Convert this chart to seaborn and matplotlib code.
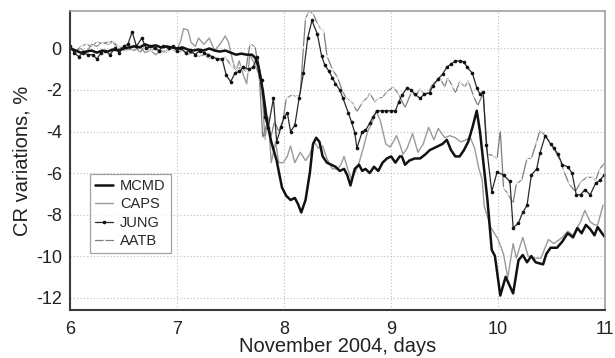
import matplotlib
matplotlib.use("Agg")
import matplotlib.pyplot as plt
from matplotlib.ticker import MultipleLocator
import numpy as np
import pandas as pd
import seaborn as sns

# --- cosmic-ray variations, November 2004 (days) ---
mcmd_t = [6.0, 6.05, 6.1, 6.15, 6.2, 6.25, 6.3, 6.35, 6.4, 6.45, 6.5, 6.55, 6.6, 6.65, 6.7, 6.75,
          6.8, 6.85, 6.9, 6.95, 7.0, 7.05, 7.1, 7.15, 7.2, 7.25, 7.3, 7.35, 7.4, 7.45, 7.5, 7.55,
          7.6, 7.65, 7.7, 7.73, 7.76, 7.8, 7.84, 7.88, 7.93, 7.98, 8.02, 8.06, 8.1, 8.13, 8.16,
          8.2, 8.24, 8.27, 8.3, 8.33, 8.36, 8.4, 8.44, 8.48, 8.52, 8.56, 8.59, 8.62, 8.66, 8.7,
          8.73, 8.76, 8.8, 8.84, 8.88, 8.92, 8.96, 9.0, 9.04, 9.08, 9.1, 9.13, 9.17, 9.22, 9.27,
          9.32, 9.36, 9.4, 9.44, 9.48, 9.52, 9.56, 9.6, 9.64, 9.68, 9.72, 9.76, 9.8, 9.83, 9.86,
          9.9, 9.94, 9.97, 10.02, 10.07, 10.14, 10.19, 10.23, 10.27, 10.31, 10.35, 10.42, 10.45,
          10.49, 10.55, 10.6, 10.65, 10.7, 10.74, 10.78, 10.82, 10.86, 10.9, 10.93, 10.97, 11.0]
mcmd_v = [0.0, -0.1, -0.2, -0.15, -0.1, -0.2, -0.1, -0.15, -0.05, -0.1, 0.0, 0.05, 0.1, 0.05, 0.2, 0.1,
          0.15, 0.05, 0.1, 0.05, 0.0, 0.05, -0.05, -0.1, -0.05, -0.1, 0.0, -0.1, -0.15, -0.1, -0.2, -0.3,
          -0.25, -0.3, -0.3, -0.45, -0.9, -2.0, -3.5, -4.5, -5.4, -6.7, -7.1, -7.3, -7.2, -7.5, -7.9,
          -7.3, -6.0, -4.6, -4.3, -4.5, -5.2, -5.5, -5.6, -5.7, -5.9, -5.8, -6.1, -6.6, -5.8, -5.6,
          -5.9, -5.8, -6.0, -5.7, -5.9, -5.5, -5.3, -5.2, -5.5, -5.2, -5.2, -5.6, -5.4, -5.3, -5.3,
          -5.1, -4.9, -4.8, -4.7, -4.6, -4.4, -4.9, -5.2, -5.2, -4.9, -4.5, -3.8, -3.0, -4.0, -5.4,
          -7.3, -9.7, -10.0, -11.9, -11.0, -11.8, -10.2, -9.95, -10.3, -10.0, -10.3, -10.4, -9.9,
          -9.6, -9.6, -9.3, -8.9, -9.1, -8.65, -8.9, -8.5, -8.7, -9.0, -8.6, -8.9, -9.1]

caps_t = [6.0, 6.05, 6.1, 6.15, 6.2, 6.25, 6.3, 6.35, 6.4, 6.45, 6.5, 6.55, 6.6, 6.65, 6.7, 6.75,
          6.8, 6.85, 6.9, 6.95, 7.0, 7.03, 7.06, 7.1, 7.13, 7.17, 7.2, 7.25, 7.3, 7.35, 7.4, 7.45,
          7.48, 7.52, 7.55, 7.58, 7.62, 7.65, 7.68, 7.72, 7.76, 7.8, 7.82, 7.85, 7.88, 7.92, 7.95,
          7.99, 8.03, 8.06, 8.1, 8.15, 8.2, 8.24, 8.28, 8.32, 8.36, 8.4, 8.45, 8.5, 8.53, 8.56,
          8.6, 8.63, 8.67, 8.7, 8.74, 8.78, 8.82, 8.86, 8.9, 8.95, 8.99, 9.02, 9.05, 9.08, 9.11,
          9.15, 9.2, 9.25, 9.3, 9.35, 9.4, 9.44, 9.5, 9.55, 9.6, 9.65, 9.7, 9.74, 9.78, 9.82,
          9.85, 9.87, 9.93, 10.0, 10.05, 10.09, 10.14, 10.17, 10.23, 10.28, 10.33, 10.4, 10.47,
          10.52, 10.6, 10.65, 10.7, 10.77, 10.81, 10.86, 10.9, 10.93, 10.98]
caps_v = [0.1, -0.1, 0.0, -0.2, 0.2, 0.1, 0.3, 0.2, 0.3, 0.0, -0.1, 0.0, -0.1, 0.1, -0.2, -0.1,
          -0.3, -0.1, -0.2, 0.1, 0.0, 0.3, 0.95, 0.9, 0.3, 0.1, 0.5, 0.2, 0.5, -0.1, 0.2, 0.6,
          0.3, -0.6, -1.1, -0.6, -1.3, -1.7, -0.3, -0.7, -1.2, -2.5, -4.4, -3.3, -5.5, -4.5, -5.5,
          -5.5, -5.2, -4.7, -5.5, -5.0, -5.4, -5.1, -4.5, -4.8, -4.7, -5.3, -5.8, -5.8, -5.6, -5.2,
          -5.9, -6.3, -5.9, -5.5, -4.8, -4.0, -3.6, -3.0, -3.5, -4.6, -4.75, -4.5, -4.2, -4.6, -5.1,
          -4.8, -4.1, -5.0, -4.6, -3.8, -4.4, -3.85, -4.3, -4.2, -4.3, -4.5, -4.4, -4.3, -4.8, -5.8,
          -6.3, -7.6, -8.6, -9.2, -9.9, -11.05, -9.4, -10.1, -9.1, -10.0, -10.1, -10.1, -9.2,
          -9.4, -9.1, -8.8, -9.0, -8.35, -7.8, -8.35, -8.5, -8.5, -7.55]

jung_t = [6.0, 6.04, 6.08, 6.12, 6.17, 6.21, 6.25, 6.29, 6.33, 6.37, 6.42, 6.46, 6.5, 6.54, 6.58,
          6.62, 6.67, 6.71, 6.75, 6.79, 6.83, 6.87, 6.92, 6.96, 7.0, 7.04, 7.08, 7.12, 7.17, 7.21,
          7.25, 7.29, 7.33, 7.37, 7.42, 7.46, 7.5, 7.54, 7.58, 7.62, 7.67, 7.71, 7.75, 7.79, 7.82,
          7.85, 7.9, 7.93, 7.97, 8.0, 8.03, 8.06, 8.1, 8.14, 8.18, 8.22, 8.26, 8.31, 8.35, 8.38,
          8.42, 8.45, 8.48, 8.52, 8.55, 8.6, 8.63, 8.66, 8.68, 8.73, 8.76, 8.8, 8.83, 8.87, 8.91,
          8.95, 9.0, 9.04, 9.07, 9.1, 9.15, 9.19, 9.22, 9.27, 9.31, 9.36, 9.39, 9.44, 9.48, 9.52,
          9.56, 9.6, 9.64, 9.68, 9.71, 9.76, 9.8, 9.83, 9.86, 9.89, 9.94, 9.99, 10.05, 10.11,
          10.14, 10.19, 10.23, 10.27, 10.31, 10.36, 10.39, 10.44, 10.49, 10.52, 10.56, 10.6,
          10.65, 10.69, 10.73, 10.77, 10.81, 10.86, 10.91, 10.95, 10.99]
jung_v = [0.1, -0.2, -0.4, -0.2, -0.3, -0.3, -0.5, -0.2, -0.1, -0.3, 0.0, -0.2, 0.1, 0.2, 0.8,
          0.1, 0.5, 0.0, 0.1, 0.0, -0.1, 0.1, 0.0, 0.1, -0.1, 0.0, -0.2, -0.1, -0.3, -0.1,
          -0.2, -0.3, -0.4, -0.5, -0.5, -1.3, -1.6, -1.2, -1.1, -0.9, -1.0, -0.9, -0.4, -1.5, -3.3,
          -3.85, -2.4, -4.5, -3.8, -3.3, -3.1, -4.0, -3.7, -2.4, -1.2, 0.5, 1.35, 0.7, -0.35, -0.8,
          -1.1, -1.4, -1.7, -2.0, -2.4, -3.1, -3.55, -4.05, -4.8, -4.0, -3.95, -3.6, -3.3, -3.0, -3.0,
          -3.0, -3.0, -3.0, -2.6, -2.25, -1.9, -2.0, -2.2, -2.4, -2.2, -2.15, -1.8, -1.45, -1.25, -0.9,
          -0.75, -0.6, -0.6, -0.65, -0.9, -1.2, -1.9, -2.2, -2.1, -4.65, -6.9, -5.95, -6.1, -6.4,
          -8.65, -8.4, -7.9, -7.55, -6.1, -5.8, -5.05, -4.2, -4.6, -4.8, -5.1, -5.6,
          -5.7, -6.0, -7.05, -7.05, -6.8, -7.05, -6.5, -6.35, -6.1]

aatb_t = [6.0, 6.05, 6.1, 6.15, 6.2, 6.25, 6.3, 6.35, 6.4, 6.45, 6.5, 6.55, 6.6, 6.65, 6.7, 6.75,
          6.8, 6.85, 6.9, 6.95, 7.0, 7.05, 7.1, 7.15, 7.2, 7.25, 7.3, 7.35, 7.4, 7.45, 7.5, 7.55,
          7.6, 7.64, 7.68, 7.73, 7.77, 7.8, 7.84, 7.88, 7.91, 7.95, 7.99, 8.02, 8.07, 8.11, 8.15,
          8.18, 8.2, 8.23, 8.27, 8.31, 8.34, 8.37, 8.4, 8.45, 8.5, 8.54, 8.58, 8.62, 8.65, 8.68,
          8.73, 8.78, 8.8, 8.85, 8.88, 8.92, 8.96, 9.02, 9.07, 9.13, 9.19, 9.23, 9.27, 9.31, 9.35,
          9.39, 9.46, 9.5, 9.53, 9.57, 9.6, 9.64, 9.69, 9.72, 9.77, 9.81, 9.86, 9.9, 9.95, 9.99,
          10.02, 10.05, 10.09, 10.14, 10.17, 10.22, 10.27, 10.31, 10.36, 10.39, 10.44, 10.48,
          10.52, 10.58, 10.61, 10.66, 10.72, 10.77, 10.83, 10.88, 10.91, 10.95, 11.0]
aatb_v = [0.0, -0.2, 0.1, 0.2, 0.1, 0.3, 0.25, 0.3, 0.35, 0.1, 0.0, -0.1, 0.2, -0.2, 0.1, -0.1,
          0.0, -0.2, -0.1, 0.0, -0.2, -0.1, -0.3, -0.2, -0.4, -0.3, -0.5, -0.4, -0.6, -0.4, -0.8, -1.0,
          -0.9, -1.1, 0.2, 0.1, -1.5, -4.3, -3.6, -4.2, -3.5, -4.0, -3.45, -2.4, -2.25, -2.3, -2.25,
          0.05, 1.45, 1.75, 1.7, 1.2, 0.95, 0.85, -0.35, -1.0, -1.4, -2.0, -2.4, -2.5, -2.7, -3.05,
          -2.6, -2.35, -2.15, -2.6, -2.4, -2.35, -2.1, -1.85, -2.2, -2.85, -2.1, -2.3, -1.95, -2.2, -2.1,
          -1.7, -1.45, -1.85, -1.4, -1.8, -2.15, -1.6, -1.85, -1.55, -2.3, -2.75, -2.15, -5.1, -5.15, -5.3,
          -3.95, -6.7, -7.0, -7.45, -6.5, -6.35, -5.3, -5.3, -4.5, -3.95, -4.2, -4.5,
          -4.8, -5.4, -5.85, -6.5, -6.9, -6.45, -6.2, -6.2, -6.35, -5.8, -5.5]

x_ticks = [6, 7, 8, 9, 10, 11]
y_ticks = [0, -2, -4, -6, -8, -10, -12]

frames = []
for name, t, v in [("MCMD", mcmd_t, mcmd_v), ("CAPS", caps_t, caps_v),
                   ("JUNG", jung_t, jung_v), ("AATB", aatb_t, aatb_v)]:
    frames.append(pd.DataFrame({"day": t, "cr": v, "station": name}))
df = pd.concat(frames, ignore_index=True)

sns.set_style("white")
plt.rcParams["font.family"] = ["Liberation Sans", "DejaVu Sans"]
plt.rcParams["axes.unicode_minus"] = False

fig = plt.figure(figsize=(6.15, 3.58), dpi=100)
ax = fig.add_axes([0.114, 0.134, 0.870, 0.835])

styles = {
    "MCMD": dict(color="#111111", linewidth=1.8, marker=None),
    "CAPS": dict(color="#9a9a9a", linewidth=1.0, marker=None),
    "JUNG": dict(color="#2a2a2a", linewidth=0.9, marker="o", markersize=2.6,
                 markeredgewidth=0, markerfacecolor="#111111"),
    "AATB": dict(color="#7d7d7d", linewidth=0.9, marker="x", markersize=2.6,
                 markeredgewidth=0.6),
}
for name in ["CAPS", "AATB", "JUNG", "MCMD"]:
    sub = df[df["station"] == name]
    sns.lineplot(data=sub, x="day", y="cr", ax=ax, estimator=None, sort=True,
                 label=name, **styles[name])

ax.set_xlim(6, 11)
ax.set_ylim(-12.6, 1.8)
ax.set_xticks(x_ticks)
ax.set_yticks(y_ticks)
ax.xaxis.set_minor_locator(MultipleLocator(0.5))
ax.tick_params(axis="both", which="major", direction="in", length=3, labelsize=13,
               colors="#222222")
ax.tick_params(axis="x", which="major", pad=8)
ax.tick_params(axis="y", which="major", pad=6)
ax.tick_params(axis="x", which="minor", direction="in", length=2, color="#888888")
ax.grid(True, which="major", linestyle=(0, (1, 2)), color="#bdbdbd", linewidth=0.8)

for side in ["left", "bottom"]:
    ax.spines[side].set_color("#3a3a3a")
    ax.spines[side].set_linewidth(1.5)
for side in ["top", "right"]:
    ax.spines[side].set_color("#a0a0a0")
    ax.spines[side].set_linewidth(1.2)

ax.set_xlabel("November 2004, days", fontsize=14.5, labelpad=-1, color="#222222")
ax.set_ylabel("CR variations, %", fontsize=14.5, labelpad=3, color="#222222")

handles, labels = ax.get_legend_handles_labels()
order = ["MCMD", "CAPS", "JUNG", "AATB"]
hl = dict(zip(labels, handles))
leg = ax.legend([hl[k] for k in order], order, loc="lower left",
                bbox_to_anchor=(0.037, 0.19), frameon=True, fancybox=False,
                edgecolor="#8a8a8a", fontsize=10.5, handlelength=1.2, handletextpad=0.5,
                borderpad=0.35, labelspacing=0.3, borderaxespad=0)
leg.get_frame().set_linewidth(0.9)

fig.savefig("out.png", dpi=100)
